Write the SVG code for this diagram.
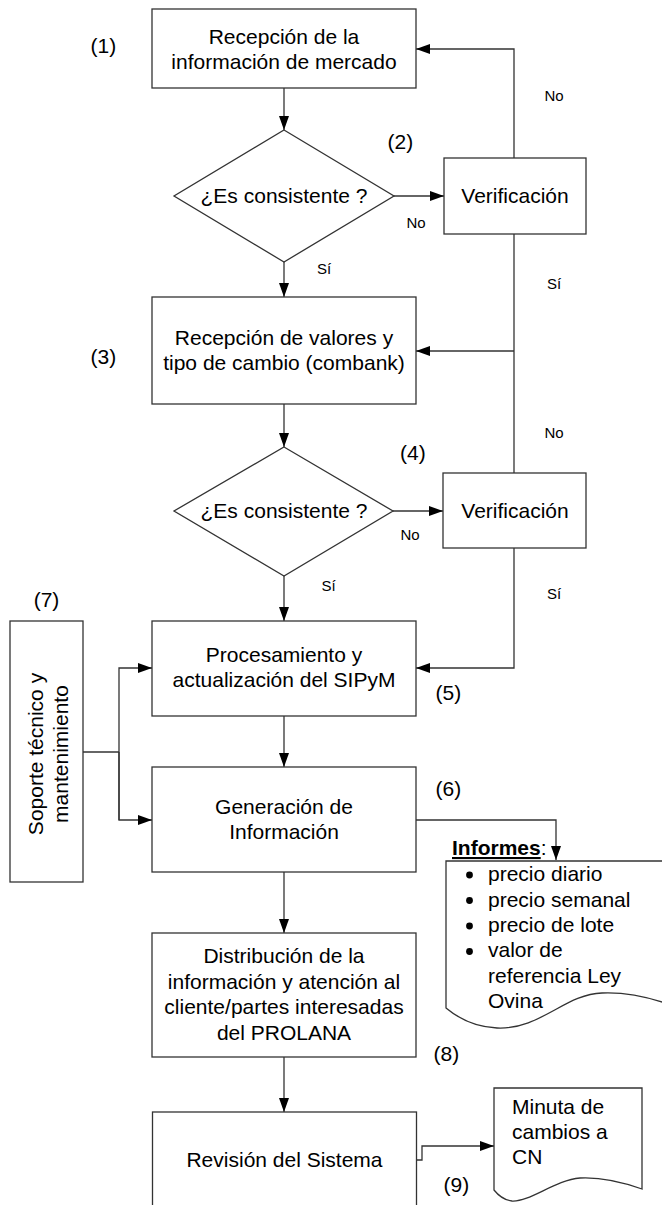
<svg xmlns="http://www.w3.org/2000/svg" width="662" height="1205" viewBox="0 0 662 1205">
<style>
.box{fill:#fff;stroke:#333;stroke-width:1.3}
.ln{fill:none;stroke:#333;stroke-width:1.3}
.t{font-family:"Liberation Sans",Arial,sans-serif;font-size:21px;fill:#000;text-anchor:middle}
.l{font-family:"Liberation Sans",Arial,sans-serif;font-size:21px;fill:#000}
.s{font-family:"Liberation Sans",Arial,sans-serif;font-size:15px;fill:#000;text-anchor:middle}
</style>
<defs>
<marker id="ah" markerUnits="userSpaceOnUse" markerWidth="14" markerHeight="10" refX="14" refY="5" orient="auto">
<path d="M0,0 L14,5 L0,10 Z" fill="#000"/>
</marker>
</defs>
<rect width="662" height="1205" fill="#fff"/>

<g id="connectors">
<path class="ln" d="M284,88 V130" marker-end="url(#ah)"/>
<path class="ln" d="M284,262 V297" marker-end="url(#ah)"/>
<path class="ln" d="M394,196 H444" marker-end="url(#ah)"/>
<path class="ln" d="M514,158 V49 H416" marker-end="url(#ah)"/>
<path class="ln" d="M514,234 V473"/>
<path class="ln" d="M514,351 H416" marker-end="url(#ah)"/>
<path class="ln" d="M284,404 V447" marker-end="url(#ah)"/>
<path class="ln" d="M393,511 H443" marker-end="url(#ah)"/>
<path class="ln" d="M284,576 V621" marker-end="url(#ah)"/>
<path class="ln" d="M514,548 V668 H416" marker-end="url(#ah)"/>
<path class="ln" d="M83,752 H119"/>
<path class="ln" d="M119,820 V668 H152" marker-end="url(#ah)"/>
<path class="ln" d="M119,752 V820 H152" marker-end="url(#ah)"/>
<path class="ln" d="M284,716 V767" marker-end="url(#ah)"/>
<path class="ln" d="M416,820 H556 V860" marker-end="url(#ah)"/>
<path class="ln" d="M284,872 V933" marker-end="url(#ah)"/>
<path class="ln" d="M284,1057 V1112" marker-end="url(#ah)"/>
<path class="ln" d="M416,1160 H422 V1146 H494" marker-end="url(#ah)"/>
</g>

<g id="n1">
<rect class="box" x="152" y="9" width="264" height="79"/>
<text class="t" x="284" y="43.5">Recepción de la</text>
<text class="t" x="284" y="68.5">información de mercado</text>
</g>
<text class="l" x="90.5" y="52.5">(1)</text>

<g id="d1">
<polygon class="box" points="284,130 394,196 284,262 174,196"/>
<text class="t" x="284" y="203">¿Es consistente ?</text>
</g>
<text class="l" x="387.5" y="148.5">(2)</text>

<g id="v1">
<rect class="box" x="444" y="158" width="142" height="76"/>
<text class="t" x="515" y="203">Verificación</text>
</g>

<g id="n3">
<rect class="box" x="152" y="297" width="264" height="107"/>
<text class="t" x="284" y="344.5">Recepción de valores y</text>
<text class="t" x="284" y="369.5">tipo de cambio (combank)</text>
</g>
<text class="l" x="90.5" y="363.5">(3)</text>

<g id="d2">
<polygon class="box" points="284,447 393,511 284,576 174,511"/>
<text class="t" x="284" y="518">¿Es consistente ?</text>
</g>
<text class="l" x="400" y="460">(4)</text>

<g id="v2">
<rect class="box" x="443" y="473" width="143" height="75"/>
<text class="t" x="515" y="518">Verificación</text>
</g>

<g id="n5">
<rect class="box" x="152" y="621" width="264" height="95"/>
<text class="t" x="284" y="662">Procesamiento y</text>
<text class="t" x="284" y="687">actualización del SIPyM</text>
</g>
<text class="l" x="435.5" y="700">(5)</text>

<g id="n7">
<rect class="box" x="10" y="621" width="73" height="261"/>
<g transform="translate(46,754) rotate(-90)">
<text class="t" x="0" y="-3.5">Soporte técnico y</text>
<text class="t" x="0" y="21.5">mantenimiento</text>
</g>
</g>
<text class="t" x="46.5" y="607">(7)</text>

<g id="n6">
<rect class="box" x="152" y="767" width="264" height="105"/>
<text class="t" x="284" y="813.5">Generación de</text>
<text class="t" x="284" y="838.5">Información</text>
</g>
<text class="l" x="435.5" y="796">(6)</text>

<g id="informes">
<path class="box" d="M446,861 H668 V1004 C 645,996 625,992 602,993 C 565,994 540,1030 497,1028 C 475,1027 458,1018 446,1008 Z"/>
<text class="l" x="452" y="855"><tspan font-weight="bold" text-decoration="underline">Informes</tspan>:</text>
<circle cx="469.5" cy="875" r="3.4" fill="#000"/>
<circle cx="469.5" cy="900.5" r="3.4" fill="#000"/>
<circle cx="469.5" cy="926" r="3.4" fill="#000"/>
<circle cx="469.5" cy="951.5" r="3.4" fill="#000"/>
<text class="l" x="488" y="881">precio diario</text>
<text class="l" x="488" y="906.5">precio semanal</text>
<text class="l" x="488" y="932">precio de lote</text>
<text class="l" x="488" y="957">valor de</text>
<text class="l" x="488" y="982.5">referencia Ley</text>
<text class="l" x="488" y="1008">Ovina</text>
</g>

<g id="n8">
<rect class="box" x="152" y="933" width="264" height="124"/>
<text class="t" x="284" y="963">Distribución de la</text>
<text class="t" x="284" y="988.5">información y atención al</text>
<text class="t" x="284" y="1014">cliente/partes interesadas</text>
<text class="t" x="284" y="1039.5">del PROLANA</text>
</g>
<text class="l" x="433.5" y="1061">(8)</text>

<g id="n9">
<rect class="box" x="152.5" y="1112" width="264" height="110"/>
<text class="t" x="284.5" y="1167">Revisión del Sistema</text>
</g>
<text class="l" x="443.5" y="1192">(9)</text>

<g id="minuta">
<path class="box" d="M494,1088 H642 V1189 C 625,1183 600,1177 580,1178 C 555,1180 530,1202 512,1201 C 503,1200 498,1195 494,1190 Z"/>
<text class="l" x="512" y="1113.5">Minuta de</text>
<text class="l" x="512" y="1138.5">cambios a</text>
<text class="l" x="512" y="1163.5">CN</text>
</g>

<g id="labels">
<text class="s" x="554" y="101">No</text>
<text class="s" x="416" y="227.5">No</text>
<text class="s" x="324" y="273.5">Sí</text>
<text class="s" x="554" y="288.5">Sí</text>
<text class="s" x="554" y="438">No</text>
<text class="s" x="410" y="540">No</text>
<text class="s" x="328.5" y="591">Sí</text>
<text class="s" x="554" y="598.5">Sí</text>
</g>
</svg>
